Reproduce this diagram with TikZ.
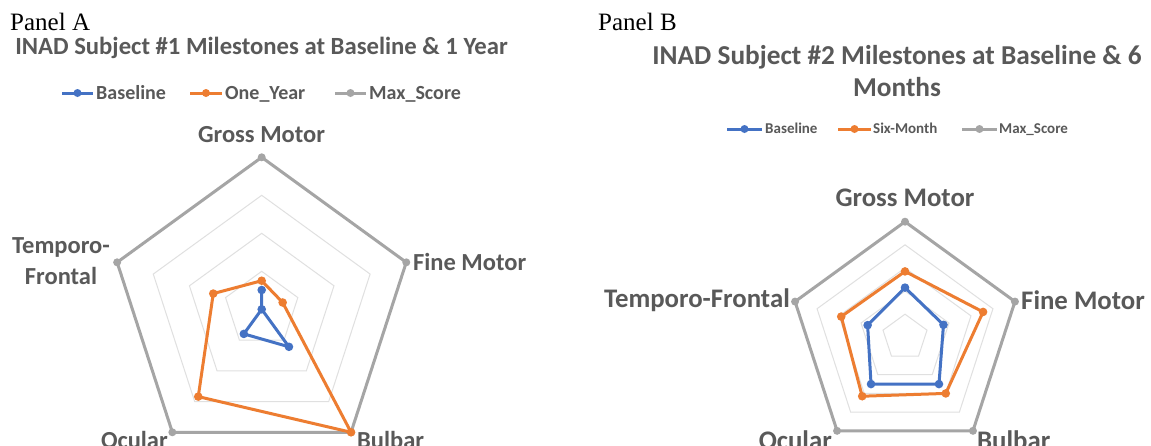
\documentclass[tikz,border=0pt]{standalone}
\usepackage{fontspec}
\usetikzlibrary{calc}
\setmainfont{Liberation Serif}
\newfontfamily\calfont{Carlito}
\definecolor{sblue}{HTML}{4472C4}
\definecolor{sorange}{HTML}{ED7D31}
\definecolor{sgray}{HTML}{A5A5A5}
\definecolor{txtgray}{HTML}{595959}
\definecolor{gridgray}{HTML}{E0E0E0}
\newcommand\radarpts[4]{%
  \foreach \v [count=\i] in {#4} {\path (#2) ++({-90+72*(\i-1)}:{\v*#3}) coordinate (#1\i);}}
\begin{document}
\begin{tikzpicture}[x=1pt,y=-1pt,
  lblA/.style={font=\calfont\bfseries\fontsize{24.5}{30.5}\selectfont, text=txtgray, inner sep=0pt},
  lblB/.style={font=\calfont\bfseries\fontsize{26.8}{32}\selectfont, text=txtgray, inner sep=0pt},
  panel/.style={font=\fontsize{25}{25}\selectfont, inner sep=0pt, anchor=base west},
  legA/.style={font=\calfont\bfseries\fontsize{20}{20}\selectfont, text=txtgray, inner sep=0pt, anchor=west, text height=12.9pt, text depth=0pt},
  legB/.style={font=\calfont\bfseries\fontsize{15}{15}\selectfont, text=txtgray, inner sep=0pt, anchor=west, text height=9.7pt, text depth=0pt},
  maxline/.style={draw=sgray, line width=3pt, line join=round},
  gridline/.style={draw=gridgray, line width=1pt},
  bline/.style={draw=sblue, line width=3pt, line join=round},
  oline/.style={draw=sorange, line width=3pt, line join=round}]
\useasboundingbox[fill=white] (0,0) rectangle (1151,445);

% ---------- Panel A ----------
\node[panel] (pA) at (10,30) {Panel A};
\node[lblA, font=\calfont\bfseries\fontsize{24.7}{24.7}\selectfont] (tA) at (261.5,48) {INAD Subject \#1 Milestones at Baseline \& 1 Year};
% legend A
\coordinate (lA1s) at (62,93); \coordinate (lA1e) at (93,93);
\draw[sblue, line width=3pt] (lA1s) -- (lA1e); \fill[sblue] ($(lA1s)!0.5!(lA1e)$) circle (4);
\node[legA] (lgA1) at (96,93) {Baseline};
\coordinate (lA2s) at (190,93); \coordinate (lA2e) at (222,93);
\draw[sorange, line width=3pt] (lA2s) -- (lA2e); \fill[sorange] ($(lA2s)!0.5!(lA2e)$) circle (4);
\node[legA] (lgA2) at (225,93) {One\_Year};
\coordinate (lA3s) at (335,93); \coordinate (lA3e) at (366,93);
\draw[sgray, line width=3pt] (lA3s) -- (lA3e); \fill[sgray] ($(lA3s)!0.5!(lA3e)$) circle (4);
\node[legA] (lgA3) at (369,93) {Max\_Score};

\coordinate (cA) at (261.7,309.3);
\radarpts{Ag1-}{cA}{152}{0.25,0.25,0.25,0.25,0.25}
\radarpts{Ag2-}{cA}{152}{0.5,0.5,0.5,0.5,0.5}
\radarpts{Ag3-}{cA}{152}{0.75,0.75,0.75,0.75,0.75}
\foreach \k in {1,2,3} \draw[gridline] (Ag\k-1) -- (Ag\k-2) -- (Ag\k-3) -- (Ag\k-4) -- (Ag\k-5) -- cycle;
\radarpts{Am}{cA}{152}{1,1,1,1,1}
\draw[maxline] (Am1) -- (Am2) -- (Am3) -- (Am4) -- (Am5) -- cycle;
\foreach \i in {1,...,5} \fill[sgray] (Am\i) circle (4);
\radarpts{Ao}{cA}{152}{0.188,0.145,1,0.71,0.335}
\draw[oline] (Ao1) -- (Ao2) -- (Ao3) -- (Ao4) -- (Ao5) -- cycle;
\foreach \i in {1,...,5} \fill[sorange] (Ao\i) circle (4.3);
\radarpts{Ab}{cA}{152}{0.127,0,0.305,0.2,0}
\draw[bline] (Ab1) -- (Ab2) -- (Ab3) -- (Ab4) -- (Ab5) -- cycle;
\foreach \i in {1,2,3,4} \fill[sblue] (Ab\i) circle (4.3);

\node[lblA] (gmA) at (261.5,135) {Gross Motor};
\node[lblA, anchor=west] (fmA) at (413,262) {Fine Motor};
\node[lblA, align=center] (tfA) at (61,261) {Temporo-\\Frontal};
\node[lblA, anchor=east] (ocA) at (168,440) {Ocular};
\node[lblA, anchor=west] (buA) at (357,440) {Bulbar};

% ---------- Panel B ----------
\node[panel] (pB) at (598,30) {Panel B};
\node[lblB, align=center, font=\calfont\bfseries\fontsize{27.3}{32}\selectfont] (tB) at (897,71) {INAD Subject \#2 Milestones at Baseline \& 6\\Months};
\coordinate (lB1s) at (727,129); \coordinate (lB1e) at (762,129);
\draw[sblue, line width=3pt] (lB1s) -- (lB1e); \fill[sblue] ($(lB1s)!0.5!(lB1e)$) circle (4);
\node[legB] (lgB1) at (765,129) {Baseline};
\coordinate (lB2s) at (838,129); \coordinate (lB2e) at (871,129);
\draw[sorange, line width=3pt] (lB2s) -- (lB2e); \fill[sorange] ($(lB2s)!0.5!(lB2e)$) circle (4);
\node[legB] (lgB2) at (873,129) {Six-Month};
\coordinate (lB3s) at (962,129); \coordinate (lB3e) at (997,129);
\draw[sgray, line width=3pt] (lB3s) -- (lB3e); \fill[sgray] ($(lB3s)!0.5!(lB3e)$) circle (4);
\node[legB] (lgB3) at (999,129) {Max\_Score};

\coordinate (cB) at (905,337.3);
\radarpts{Bg1-}{cB}{115.6}{0.2,0.2,0.2,0.2,0.2}
\radarpts{Bg2-}{cB}{115.6}{0.4,0.4,0.4,0.4,0.4}
\radarpts{Bg3-}{cB}{115.6}{0.6,0.6,0.6,0.6,0.6}
\radarpts{Bg4-}{cB}{115.6}{0.8,0.8,0.8,0.8,0.8}
\foreach \k in {1,2,3,4} \draw[gridline] (Bg\k-1) -- (Bg\k-2) -- (Bg\k-3) -- (Bg\k-4) -- (Bg\k-5) -- cycle;
\radarpts{Bm}{cB}{115.6}{1,1,1,1,1}
\draw[maxline] (Bm1) -- (Bm2) -- (Bm3) -- (Bm4) -- (Bm5) -- cycle;
\foreach \i in {1,...,5} \fill[sgray] (Bm\i) circle (4);
\radarpts{Bo}{cB}{115.6}{0.57,0.71,0.6,0.63,0.58}
\draw[oline] (Bo1) -- (Bo2) -- (Bo3) -- (Bo4) -- (Bo5) -- cycle;
\foreach \i in {1,...,5} \fill[sorange] (Bo\i) circle (4.3);
\radarpts{Bb}{cB}{115.6}{0.43,0.35,0.5,0.5,0.34}
\draw[bline] (Bb1) -- (Bb2) -- (Bb3) -- (Bb4) -- (Bb5) -- cycle;
\foreach \i in {1,...,5} \fill[sblue] (Bb\i) circle (4.3);

\node[lblB] (gmB) at (905,198) {Gross Motor};
\node[lblB, anchor=west] (fmB) at (1021,300) {Fine Motor};
\node[lblB, anchor=east] (tfB) at (790,300) {Temporo-Frontal};
\node[lblB, anchor=east] (ocB) at (832,440) {Ocular};
\node[lblB, anchor=west] (buB) at (977,440) {Bulbar};
\end{tikzpicture}
\end{document}
